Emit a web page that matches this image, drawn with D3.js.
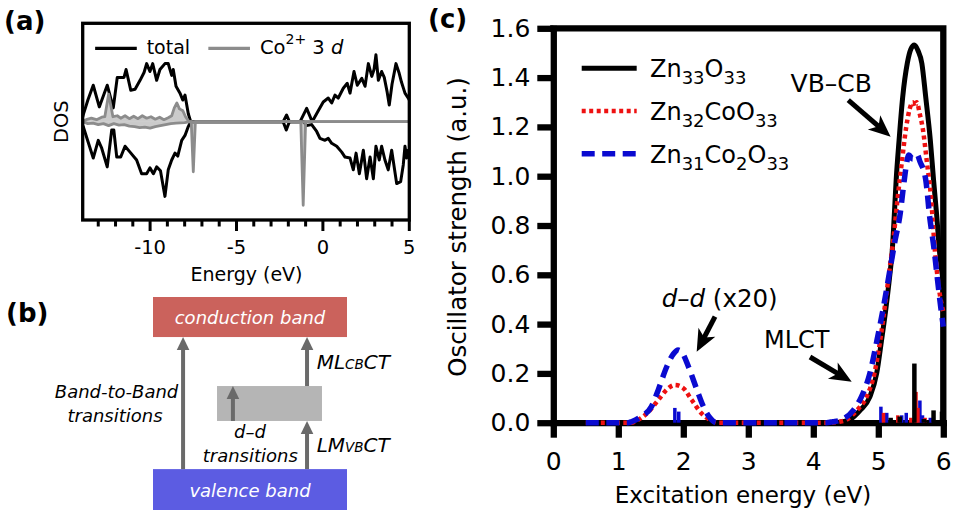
<!DOCTYPE html>
<html>
<head>
<meta charset="utf-8">
<title>DOS and oscillator strength of Co-doped ZnO clusters</title>
<script src="https://cdn.jsdelivr.net/npm/d3@7/dist/d3.min.js"></script>
<style>
  html, body { margin: 0; padding: 0; background: #fff; }
  svg { display: block; }
</style>
</head>
<body>
<svg id="fig" width="955" height="516"></svg>
<script>
// ---------- (a) spin-resolved density of states: [energy (eV), DOS (arb. units)] ----------
const dosTotalUp = [
  [-13.9,0.05],[-13.87,0.07],[-13.6,0.22],[-13.29,0.37],[-12.94,0.15],[-12.48,0.37],[-12.13,0.14],
  [-11.9,0.45],[-11.51,0.45],[-11.39,0.53],[-11.12,0.32],[-10.87,0.33],[-10.58,0.42],[-10.35,0.50],
  [-10.2,0.59],[-10.01,0.51],[-9.85,0.59],[-9.62,0.42],[-9.43,0.53],[-9.14,0.59],[-8.95,0.59],
  [-8.75,0.47],[-8.66,0.53],[-8.5,0.36],[-8.27,0.29],[-8.11,0.22],[-7.98,0.27],[-7.79,0.08],[-7.65,0],
  [-2.3,0],[-2.1,0.068],[-1.94,0],
  [-1.32,0],[-0.94,0.135],[-0.62,0.0],[-0.3,0.1],[0.02,0.2],[0.31,0.24],[0.51,0.19],[0.70,0.27],
  [0.89,0.24],[1.18,0.34],[1.41,0.39],[1.57,0.29],[1.80,0.51],[1.99,0.37],[2.25,0.44],[2.44,0.36],
  [2.63,0.59],[2.83,0.46],[2.96,0.53],[3.07,0.68],[3.21,0.42],[3.40,0.51],[3.55,0.45],[3.72,0.30],
  [3.84,0.17],[4.0,0.38],[4.23,0.59],[4.40,0.50],[4.55,0.40],[4.75,0.29],[4.94,0.24],[5.0,0.22]
];
const dosTotalDown = [
  [-13.9,-0.04],[-13.87,-0.05],[-13.6,-0.2],[-13.29,-0.37],[-13.0,-0.19],[-12.8,-0.27],[-12.48,-0.46],
  [-12.22,-0.085],[-12.1,-0.085],[-11.93,-0.36],[-11.7,-0.36],[-11.45,-0.25],[-11.16,-0.31],
  [-10.78,-0.39],[-10.49,-0.53],[-10.2,-0.53],[-10.01,-0.47],[-9.81,-0.53],[-9.62,-0.46],[-9.4,-0.5],
  [-9.14,-0.76],[-8.95,-0.49],[-8.75,-0.39],[-8.56,-0.32],[-8.4,-0.35],[-8.17,-0.19],[-7.98,-0.14],
  [-7.79,-0.05],[-7.65,0],
  [-2.3,0],[-2.12,-0.085],[-1.94,0],
  [-1.1,0],[-0.95,-0.04],[-0.65,-0.03],[-0.36,-0.10],[-0.17,-0.17],[0.12,-0.19],[0.31,-0.17],
  [0.51,-0.22],[0.80,-0.25],[1.09,-0.31],[1.28,-0.36],[1.57,-0.37],[1.76,-0.49],[1.92,-0.32],
  [2.11,-0.53],[2.34,-0.29],[2.53,-0.58],[2.73,-0.36],[2.92,-0.58],[3.07,-0.25],[3.26,-0.39],
  [3.40,-0.25],[3.59,-0.39],[3.78,-0.49],[3.98,-0.29],[4.27,-0.63],[4.50,-0.61],[4.65,-0.44],
  [4.75,-0.25],[4.85,-0.37],[4.94,-0.29],[5.0,-0.33]
];
const dosCo3dUp = [
  [-13.9,0],[-13.7,0.02],[-13.4,0.035],[-13.1,0.02],[-12.8,0.045],[-12.62,0.05],[-12.4,0.28],
  [-12.15,0.05],[-11.9,0.06],[-11.7,0.035],[-11.45,0.06],[-11.2,0.03],[-10.95,0.055],[-10.7,0.03],
  [-10.45,0.06],[-10.2,0.035],[-9.95,0.05],[-9.7,0.025],[-9.45,0.045],[-9.2,0.02],[-8.95,0.04],
  [-8.75,0.06],[-8.6,0.14],[-8.45,0.19],[-8.3,0.13],[-8.1,0.11],[-7.95,0.05],[-7.75,0],[5,0]
];
const dosCo3dDown = [
  [-13.9,0],[-13.6,-0.02],[-13.3,-0.015],[-13.0,-0.03],[-12.7,-0.02],[-12.4,-0.04],[-12.1,-0.02],
  [-11.8,-0.035],[-11.5,-0.03],[-11.2,-0.045],[-10.9,-0.05],[-10.6,-0.06],[-10.3,-0.055],[-10.0,-0.065],
  [-9.7,-0.05],[-9.4,-0.04],[-9.1,-0.03],[-8.8,-0.02],[-8.5,-0.015],[-8.0,-0.01],[-7.7,0],
  [-7.62,0],[-7.5,-0.51],[-7.38,0],[-1.28,0],[-1.14,-0.85],[-1.0,0],[5,0]
];
const dosEnergyDomain = [-13.9, 5];
const dosMajorTicks = [-10, -5, 0, 5];
const dosMajorTickLabels = ["-10", "-5", "0", "5"];
const dosMinorTicks = [-13,-12,-11,-9,-8,-7,-6,-4,-3,-2,-1,1,2,3,4];

// ---------- (b) transition scheme, in schematic units (x 0-10, energy 0-10) ----------
const schemeBoxes = [
  { label: "conduction band", x0: 0, x1: 10, e0: 8.12, e1: 10, fill: "#cb625c" },
  { label: "valence band",    x0: 0, x1: 10, e0: 0,    e1: 1.92, fill: "#5c5ce2" },
  { label: "",                x0: 3.3, x1: 8.71, e0: 4.18, e1: 5.82, fill: "#b5b5b5" }
];
const schemeArrows = [
  { x: 1.55, from: 1.92, to: 8.12 },
  { x: 7.94, from: 5.82, to: 8.12 },
  { x: 7.94, from: 1.92, to: 4.18 },
  { x: 4.12, from: 4.18, to: 5.82 }
];

// ---------- (c) oscillator strength spectra: [excitation energy (eV), strength (a.u.)] ----------
const seriesLabels = [
  [["Zn",0],["33",1],["O",0],["33",1]],
  [["Zn",0],["32",1],["CoO",0],["33",1]],
  [["Zn",0],["31",1],["Co",0],["2",1],["O",0],["33",1]]
];
const spectrumZn33O33 = [
  [0.5,0],[4.3,0],[4.45,0.004],[4.56,0.012],[4.72,0.05],[4.87,0.105],[4.975,0.20],[5.05,0.335],
  [5.12,0.47],[5.18,0.606],[5.215,0.70],[5.245,0.836],[5.275,0.985],[5.32,1.147],[5.375,1.32],
  [5.446,1.458],[5.50,1.515],[5.555,1.532],[5.61,1.51],[5.67,1.458],[5.73,1.32],[5.80,1.147],
  [5.85,0.985],[5.90,0.836],[5.94,0.70],[6.0,0.57]
];
const spectrumZn32CoO33 = [
  [0.5,0],[1.2,0],[1.28,0.008],[1.44,0.038],[1.615,0.092],[1.75,0.135],[1.87,0.153],[2.0,0.14],
  [2.13,0.092],[2.28,0.038],[2.44,0.008],[2.55,0],[4.25,0],[4.40,0.004],[4.51,0.012],[4.67,0.05],
  [4.82,0.105],[4.94,0.20],[5.03,0.335],[5.10,0.47],[5.165,0.606],[5.235,0.75],[5.30,0.917],
  [5.36,1.052],[5.43,1.20],[5.48,1.27],[5.53,1.30],[5.56,1.28],[5.59,1.30],[5.64,1.25],[5.68,1.20],
  [5.75,1.052],[5.81,0.917],[5.87,0.70],[5.93,0.55],[6.0,0.45]
];
const spectrumZn31Co2O33 = [
  [0.5,0],[1.15,0],[1.21,0.005],[1.35,0.025],[1.51,0.065],[1.615,0.133],[1.745,0.227],[1.85,0.28],
  [1.92,0.295],[1.98,0.285],[2.08,0.227],[2.21,0.133],[2.31,0.065],[2.41,0.02],[2.51,0],[4.2,0],
  [4.3,0.004],[4.41,0.01],[4.615,0.05],[4.74,0.105],[4.87,0.20],[4.98,0.335],[5.08,0.47],
  [5.17,0.606],[5.26,0.742],[5.33,0.836],[5.40,0.985],[5.44,1.06],[5.47,1.086],[5.53,1.07],
  [5.60,1.086],[5.64,1.06],[5.73,0.985],[5.79,0.836],[5.86,0.70],[5.90,0.606],[5.96,0.47],[6.0,0.39]
];
const sticksZn33O33 = [[5.19,0.02],[5.33,0.025],[5.555,0.24],[5.70,0.015],[5.75,0.01],[5.85,0.05],[5.98,0.045]];
const sticksZn32CoO33 = [[5.08,0.04],[5.30,0.03],[5.50,0.02],[5.58,0.125],[5.61,0.06],[5.72,0.02]];
const sticksZn31Co2O33 = [[1.87,0.06],[1.93,0.045],[5.04,0.065],[5.13,0.04],[5.36,0.03],[5.43,0.04],[5.64,0.09],[5.68,0.03],[5.80,0.02]];
const energyTicks = [0, 1, 2, 3, 4, 5, 6];
const strengthTicks = [0, 0.2, 0.4, 0.6, 0.8, 1.0, 1.2, 1.4, 1.6];
const strengthTickLabels = ["0.0","0.2","0.4","0.6","0.8","1.0","1.2","1.4","1.6"];

// ================= drawing =================
const F = "'DejaVu Sans', sans-serif";
const svg = d3.select("#fig");

function label(g, x, y, txt, size, opts = {}) {
  return g.append("text").attr("x", x).attr("y", y)
    .attr("font-family", F).attr("font-size", size)
    .attr("font-weight", opts.bold ? "bold" : null)
    .attr("font-style", opts.italic ? "italic" : null)
    .attr("text-anchor", opts.anchor || "start")
    .attr("fill", opts.fill || "#000").text(txt);
}

// panel letters
label(svg, 4, 30, "(a)", 26, { bold: true });
label(svg, 6, 322, "(b)", 26, { bold: true });
label(svg, 428, 28, "(c)", 26, { bold: true });

// ---------------- (a) ----------------
const xA = d3.scaleLinear().domain(dosEnergyDomain).range([82.7, 409.3]);
const yA = d3.scaleLinear().domain([-1, 1]).range([220, 23.3]);
const gA = svg.append("g");
gA.append("clipPath").attr("id", "clipA").append("rect")
  .attr("x", xA(dosEnergyDomain[0])).attr("y", yA(1))
  .attr("width", xA(dosEnergyDomain[1]) - xA(dosEnergyDomain[0])).attr("height", yA(-1) - yA(1));
const plotA = gA.append("g").attr("clip-path", "url(#clipA)");
const lineA = d3.line().x(d => xA(d[0])).y(d => yA(d[1]));
const areaA = d3.area().x(d => xA(d[0])).y0(yA(0)).y1(d => yA(d[1]));
[dosTotalUp, dosTotalDown].forEach(s => plotA.append("path").attr("d", lineA(s))
  .attr("fill", "none").attr("stroke", "#000").attr("stroke-width", 3).attr("stroke-linejoin", "round"));
[dosCo3dUp, dosCo3dDown].forEach(s => {
  plotA.append("path").attr("d", areaA(s)).attr("fill", "#8c8c8c").attr("fill-opacity", 0.45);
  plotA.append("path").attr("d", lineA(s)).attr("fill", "none").attr("stroke", "#8c8c8c")
    .attr("stroke-width", 2.8).attr("stroke-linejoin", "round");
});
// frame
gA.append("rect").attr("x", xA(dosEnergyDomain[0])).attr("y", yA(1))
  .attr("width", xA(dosEnergyDomain[1]) - xA(dosEnergyDomain[0])).attr("height", yA(-1) - yA(1))
  .attr("fill", "none").attr("stroke", "#000").attr("stroke-width", 3.3);
// ticks
dosMinorTicks.forEach(t => gA.append("line").attr("x1", xA(t)).attr("x2", xA(t))
  .attr("y1", yA(-1)).attr("y2", yA(-1) + 6.5).attr("stroke", "#000").attr("stroke-width", 3));
dosMajorTicks.forEach((t, i) => {
  gA.append("line").attr("x1", xA(t)).attr("x2", xA(t))
    .attr("y1", yA(-1)).attr("y2", yA(-1) + 11).attr("stroke", "#000").attr("stroke-width", 3);
  label(gA, xA(t), 254, dosMajorTickLabels[i], 19.5, { anchor: "middle" });
});
label(gA, 246.5, 281, "Energy (eV)", 19, { anchor: "middle" });
gA.append("text").attr("transform", "translate(68," + yA(0) + ") rotate(-90)")
  .attr("font-family", F).attr("font-size", 19.5).attr("text-anchor", "middle").text("DOS");
// legend
gA.append("line").attr("x1", xA(-13.18)).attr("x2", xA(-10.77)).attr("y1", yA(0.746)).attr("y2", yA(0.746))
  .attr("stroke", "#000").attr("stroke-width", 3.2);
label(gA, xA(-10.2), 54, "total", 19);
gA.append("line").attr("x1", xA(-6.63)).attr("x2", xA(-4.22)).attr("y1", yA(0.746)).attr("y2", yA(0.746))
  .attr("stroke", "#8c8c8c").attr("stroke-width", 3.2);
const coTxt = label(gA, xA(-3.64), 54, "", 19.5);
coTxt.append("tspan").text("Co");
coTxt.append("tspan").attr("font-size", 14).attr("dy", -10).text("2+");
coTxt.append("tspan").attr("dy", 10).text(" 3 ");
coTxt.append("tspan").attr("font-style", "italic").text("d");

// ---------------- (b) ----------------
const xB = d3.scaleLinear().domain([0, 10]).range([153, 347]);
const yB = d3.scaleLinear().domain([0, 10]).range([510, 297]);
const gB = svg.append("g");
schemeBoxes.forEach(b => {
  gB.append("rect").attr("x", xB(b.x0)).attr("y", yB(b.e1))
    .attr("width", xB(b.x1) - xB(b.x0)).attr("height", yB(b.e0) - yB(b.e1)).attr("fill", b.fill);
  if (b.label) label(gB, xB((b.x0 + b.x1) / 2), (yB(b.e0) + yB(b.e1)) / 2 + 7, b.label, 18,
    { anchor: "middle", italic: true, fill: "#fff" });
});
function headArrow(g, x1, y1, x2, y2, o) {
  const a = Math.atan2(y2 - y1, x2 - x1), c = Math.cos(a), s = Math.sin(a);
  const bx = x2 - o.len * c, by = y2 - o.len * s;
  const nx = x2 - (o.len - o.notch) * c, ny = y2 - (o.len - o.notch) * s;
  g.append("line").attr("x1", x1).attr("y1", y1).attr("x2", nx + 0.5 * c).attr("y2", ny + 0.5 * s)
    .attr("stroke", o.color).attr("stroke-width", o.w);
  g.append("polygon").attr("fill", o.color).attr("points", [
    [x2, y2], [bx - o.hw * s, by + o.hw * c], [nx, ny], [bx + o.hw * s, by - o.hw * c]
  ].map(p => p.join(",")).join(" "));
}
schemeArrows.forEach(a => headArrow(gB, xB(a.x), yB(a.from), xB(a.x), yB(a.to),
  { len: 13, hw: 6.3, notch: 0, w: 4, color: "#6a6a6a" }));
label(gB, 178.3, 398.3, "Band-to-Band", 18, { anchor: "end", italic: true });
label(gB, 115, 421.7, "transitions", 18, { anchor: "middle", italic: true });
label(gB, 250, 438.3, "d\u2013d", 18, { anchor: "middle", italic: true });
label(gB, 250.3, 461.7, "transitions", 18, { anchor: "middle", italic: true });
const mlTxt = label(gB, 316.7, 369.3, "", 20, { italic: true });
mlTxt.append("tspan").text("ML");
mlTxt.append("tspan").attr("font-size", 13.5).text("CB");
mlTxt.append("tspan").text("CT");
const lmTxt = label(gB, 316.7, 451.7, "", 20, { italic: true });
lmTxt.append("tspan").text("LM");
lmTxt.append("tspan").attr("font-size", 13.5).text("VB");
lmTxt.append("tspan").text("CT");

// ---------------- (c) ----------------
const xC = d3.scaleLinear().domain([0, 6]).range([553.3, 943.3]);
const yC = d3.scaleLinear().domain([0, 1.6]).range([422.7, 28.3]);
const gC = svg.append("g");
const AX = 6.3;

const axL = gC.append("g").attr("transform", "translate(" + xC(0) + ",0)")
  .call(d3.axisLeft(yC).tickValues(strengthTicks).tickSize(16).tickSizeOuter(0).tickPadding(7)
    .tickFormat((d, i) => strengthTickLabels[i]));
const axB = gC.append("g").attr("transform", "translate(0," + yC(0) + ")")
  .call(d3.axisBottom(xC).tickValues(energyTicks).tickSize(15).tickSizeOuter(0).tickPadding(14.5)
    .tickFormat(d3.format("d")));
[axL, axB].forEach(ax => {
  ax.attr("font-family", F).attr("font-size", 25);
  ax.selectAll("path, line").attr("stroke", "#000").attr("stroke-width", AX).attr("stroke-linecap", "square");
  ax.selectAll("text").attr("fill", "#000");
});
axL.selectAll("line").attr("stroke-linecap", "butt");
axB.selectAll("line").attr("stroke-linecap", "butt");
// top and right frame
gC.append("path").attr("d", "M" + xC(0) + "," + yC(1.6) + "H" + xC(6) + "V" + yC(0))
  .attr("fill", "none").attr("stroke", "#000").attr("stroke-width", AX).attr("stroke-linecap", "square");

label(gC, 743, 503, "Excitation energy (eV)", 23, { anchor: "middle" });
gC.append("text").attr("transform", "translate(466,227) rotate(-90)")
  .attr("font-family", F).attr("font-size", 24.5).attr("text-anchor", "middle")
  .text("Oscillator strength (a.u.)");

const lineC = d3.line().x(d => xC(d[0])).y(d => yC(d[1])).curve(d3.curveMonotoneX);
const styles = [
  { color: "#000000", dash: null, w: 5 },
  { color: "#ee1111", dash: "4 3.5", w: 4.5 },
  { color: "#0a0ad0", dash: "13 7.5", w: 5.5 }
];
const spectra = [spectrumZn33O33, spectrumZn32CoO33, spectrumZn31Co2O33];
const sticks = [sticksZn33O33, sticksZn32CoO33, sticksZn31Co2O33];
spectra.forEach((s, i) => gC.append("path").attr("d", lineC(s)).attr("fill", "none")
  .attr("stroke", styles[i].color).attr("stroke-width", styles[i].w)
  .attr("stroke-dasharray", styles[i].dash));
[2, 1, 0].forEach(i => sticks[i].forEach(d => gC.append("line")
  .attr("x1", xC(d[0])).attr("x2", xC(d[0])).attr("y1", yC(0)).attr("y2", yC(d[1]))
  .attr("stroke", styles[i].color).attr("stroke-width", i === 0 ? 4.5 : 3.5)));

// legend
const legendRows = [1.438, 1.2645, 1.091];
seriesLabels.forEach((parts, i) => {
  gC.append("line").attr("x1", xC(0.437)).attr("x2", xC(1.283))
    .attr("y1", yC(legendRows[i])).attr("y2", yC(legendRows[i]))
    .attr("stroke", styles[i].color).attr("stroke-width", styles[i].w)
    .attr("stroke-dasharray", styles[i].dash);
  const t = label(gC, xC(1.488), yC(legendRows[i]) + 9, "", 24);
  let sub = 0;
  parts.forEach(([txt, isSub]) => {
    const dy = isSub && !sub ? 7 : (!isSub && sub ? -7 : 0);
    t.append("tspan").attr("dy", dy).attr("font-size", isSub ? 18 : 24).text(txt);
    sub = isSub;
  });
});

// annotations
const arrowStyle = { len: 22, hw: 9.5, notch: 6, w: 5, color: "#000" };
headArrow(gC, xC(4.538), yC(1.309), xC(5.19), yC(1.160), arrowStyle);
label(gC, xC(4.903), yC(1.343), "VB\u2013CB", 25, { anchor: "end" });
headArrow(gC, xC(2.488), yC(0.430), xC(2.206), yC(0.288), arrowStyle);
const ddTxt = label(gC, xC(1.668), yC(0.469), "", 24.5);
ddTxt.append("tspan").attr("font-style", "italic").text("d\u2013d");
ddTxt.append("tspan").text(" (x20)");
headArrow(gC, xC(3.949), yC(0.2665), xC(4.591), yC(0.166), arrowStyle);
label(gC, xC(3.242), yC(0.303), "MLCT", 24);
</script>
</body>
</html>
